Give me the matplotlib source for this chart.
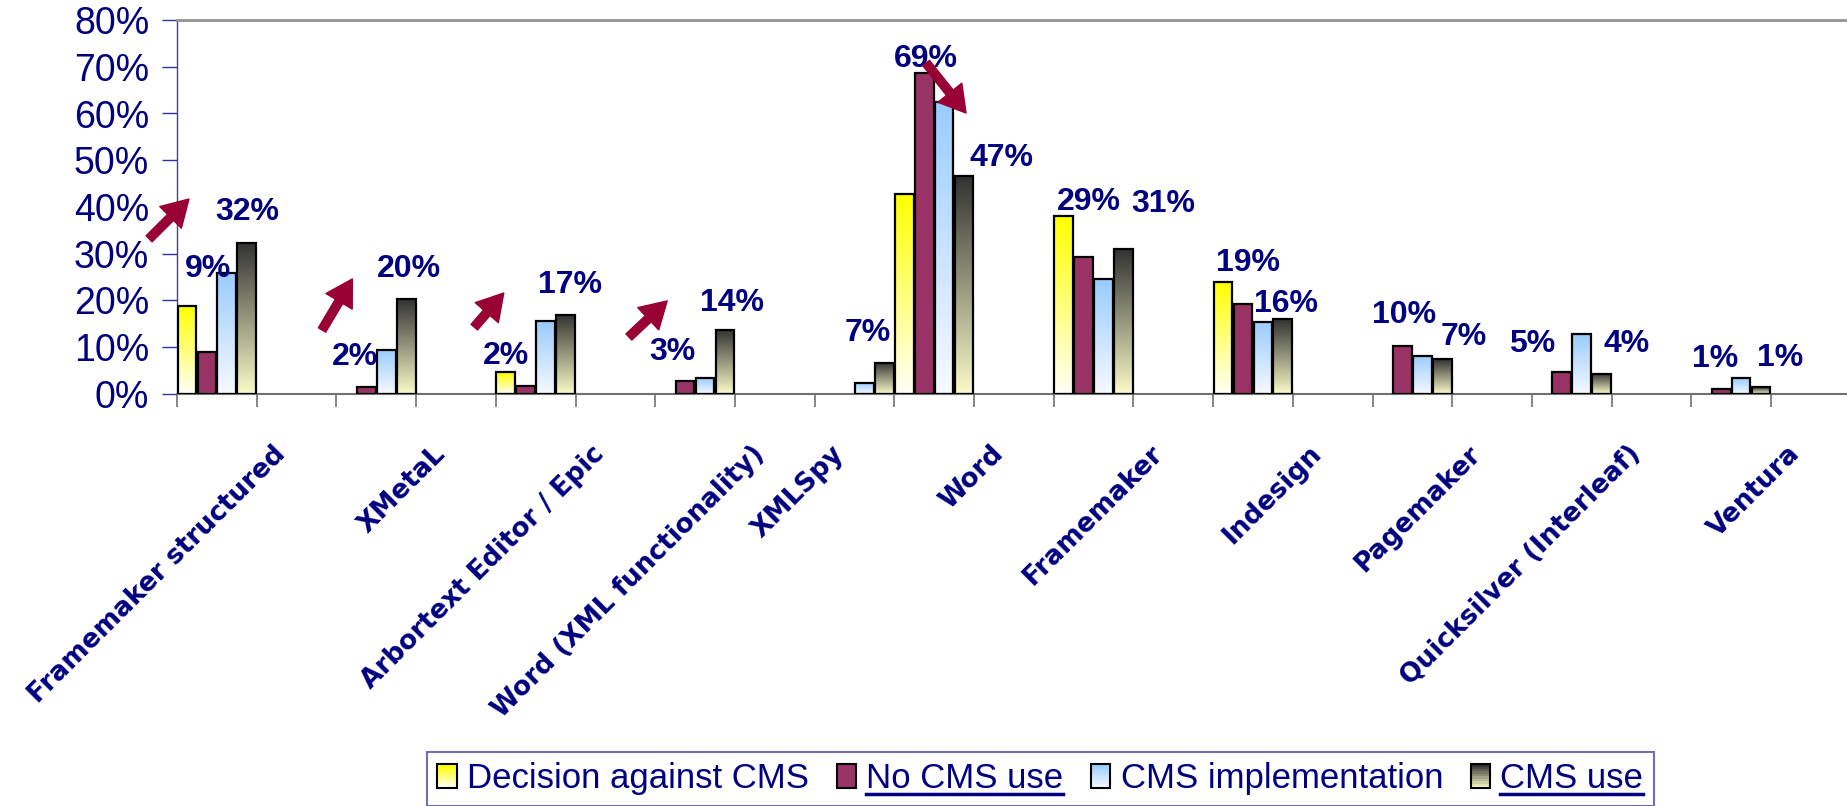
import matplotlib
matplotlib.use("Agg")
import matplotlib.pyplot as plt
import matplotlib.transforms as mtransforms
import numpy as np
from matplotlib.colors import to_rgb
from matplotlib.legend_handler import HandlerBase
from matplotlib.lines import Line2D
from matplotlib.patches import Rectangle

plt.rcParams["font.family"] = ["Liberation Sans", "DejaVu Sans"]

# data (percent)
categories = [
    "Framemaker structured", "XMetaL", "Arbortext Editor / Epic",
    "Word (XML functionality)", "XMLSpy", "Word", "Framemaker",
    "Indesign", "Pagemaker", "Quicksilver (Interleaf)", "Ventura",
]
series_names = ["Decision against CMS", "No CMS use", "CMS implementation", "CMS use"]
decision = [18.9, 0, 4.6, 0, 0, 42.8, 38.1, 24.0, 0, 0, 0]
no_cms = [9.0, 1.6, 1.8, 2.8, 0, 68.7, 29.2, 19.3, 10.2, 4.8, 1.1]
implementation = [25.9, 9.5, 15.6, 3.4, 2.4, 62.5, 24.5, 15.5, 8.2, 12.8, 3.4]
cms_use = [32.4, 20.3, 16.9, 13.7, 6.7, 46.6, 31.0, 16.0, 7.4, 4.3, 1.4]
labelled = ["No CMS use", "CMS use"]

# layout: the x axis has 21 slots, groups sit in some of them
group_slot = [0, 2, 4, 6, 8, 9, 11, 13, 15, 17, 19]
label_slot = [0, 2, 4, 6, 7, 9, 11, 13, 15, 17, 19]
no_cms_label_xy = [(0.39, 26.7), (2.23, 7.9), (4.13, 8.2), (6.22, 9.0), None,
                   (9.40, 71.6), (11.44, 41.1), (13.44, 28.0), (15.40, 16.9),
                   (17.00, 10.7), (19.30, 7.4)]
cms_use_label_xy = [(0.88, 38.9), (2.91, 26.7), (4.93, 23.3), (6.96, 19.5),
                    (8.67, 13.0), (10.34, 50.5), (12.38, 40.6), (13.91, 19.2),
                    (16.14, 12.2), (18.19, 10.7), (20.11, 7.8)]
arrows = [((-0.35, 33.2), (0.15, 41.7)), ((1.82, 13.7), (2.20, 24.6)),
          ((3.73, 14.3), (4.10, 21.6)), ((5.67, 12.2), (6.15, 19.9)),
          ((9.40, 70.8), (9.90, 60.1))]

NAVY = "#000080"
ARROW = "#990033"
fills = [("#FFFFF6", "#FFFF00"), ("#993366", "#993366"),
         ("#F6F9FF", "#99CCFF"), ("#FAFAC8", "#333333")]


def gradient(bottom, top, n=64):
    b = np.array(to_rgb(bottom))
    t = np.array(to_rgb(top))
    f = np.linspace(0, 1, n)[:, None]
    return (b + (t - b) * f)[:, None, :]


class Swatch:
    def __init__(self, fill):
        self.fill = fill


class SwatchHandler(HandlerBase):
    def create_artists(self, legend, orig_handle, xdescent, ydescent,
                       width, height, fontsize, trans):
        x0, y0 = -xdescent, -ydescent
        cols = gradient(*orig_handle.fill, n=10)[:, 0, :]
        arts = []
        for i, c in enumerate(cols):
            arts.append(Rectangle((x0, y0 + i * height / len(cols)), width,
                                  height / len(cols), facecolor=c,
                                  edgecolor="none", transform=trans))
        arts.append(Rectangle((x0, y0), width, height, facecolor="none",
                              edgecolor="black", lw=1.5, transform=trans))
        return arts


fig = plt.figure(figsize=(18.47, 8.06), dpi=100)
ax = fig.add_axes([177 / 1847, 412 / 806, 1670 / 1847, 374 / 806])

series = [decision, no_cms, implementation, cms_use]
for k, vals in enumerate(series):
    xs = np.array(group_slot) + (k + 0.5) * 0.25
    bars = ax.bar(xs, vals, width=0.235, facecolor="none",
                  edgecolor="black", linewidth=1.6, zorder=3)
    grad = gradient(*fills[k])
    for b, v in zip(bars, vals):
        if v == 0:
            b.set_visible(False)
            continue
        x0 = b.get_x()
        ax.imshow(grad, extent=(x0, x0 + b.get_width(), 0, b.get_height()),
                  origin="lower", aspect="auto", zorder=2,
                  interpolation="bilinear")

# value labels
for vals, pos in [(no_cms, no_cms_label_xy), (cms_use, cms_use_label_xy)]:
    for v, p in zip(vals, pos):
        if p is None:
            continue
        ax.text(p[0], p[1], f"{round(v)}%", ha="center", va="center",
                fontsize=23, fontweight="bold", color=NAVY, zorder=5)

for start, end in arrows:
    ax.annotate("", xy=end, xytext=start, annotation_clip=False,
                arrowprops=dict(arrowstyle="simple,head_length=0.85,head_width=1.0,tail_width=0.28",
                                color=ARROW, shrinkA=0, shrinkB=0,
                                mutation_scale=22, clip_on=False), zorder=6)

ax.set_xlim(0, 1670 / 79.7)
ax.set_ylim(0, 80)
ax.set_xticks(np.arange(0, 21))
ax.set_xticklabels([])
ax.set_yticks(range(0, 81, 10))
ax.set_yticklabels([f"{t}%" for t in range(0, 81, 10)])
ax.tick_params(axis="x", length=9, width=1.2, color="#707070", direction="out")
ax.tick_params(axis="y", length=11, width=1.0, color="#3030A0",
               labelsize=27, labelcolor=NAVY, pad=9)
ax.spines["right"].set_visible(False)
ax.spines["top"].set_color("#909090")
ax.spines["top"].set_linewidth(2)
ax.spines["bottom"].set_color("#707070")
ax.spines["bottom"].set_linewidth(1.5)
ax.spines["left"].set_color("#4040A0")
ax.spines["left"].set_linewidth(1.0)

# category labels
tr = mtransforms.blended_transform_factory(ax.transData, ax.transAxes)
for s, name in zip(label_slot, categories):
    ax.text(s + 1.2, -0.125, name, transform=tr, rotation=45,
            rotation_mode="anchor", ha="right", va="top", fontsize=19,
            fontweight="bold", family="DejaVu Sans", color=NAVY)

handles = [Swatch(f) for f in fills]
leg = fig.legend(handles, series_names, handler_map={Swatch: SwatchHandler()},
                 loc="upper left", bbox_to_anchor=(427 / 1847, 1 - 752 / 806),
                 ncol=4, frameon=True, fancybox=False, edgecolor="#7070B0",
                 framealpha=1.0,
                 prop=dict(family="Liberation Sans", size=25), labelcolor=NAVY,
                 handlelength=0.55, handleheight=0.7, handletextpad=0.3,
                 columnspacing=0.8, borderpad=0.3, borderaxespad=0)
leg.get_frame().set_linewidth(1.5)

# underline the labelled series names
fig.canvas.draw()
for t in leg.get_texts():
    if t.get_text() in labelled:
        bb = t.get_window_extent()
        fig.add_artist(Line2D([bb.x0, bb.x1], [bb.y0 + 1, bb.y0 + 1],
                              transform=mtransforms.IdentityTransform(),
                              color=NAVY, lw=2.5, zorder=20))

fig.savefig("out.png", dpi=100)
